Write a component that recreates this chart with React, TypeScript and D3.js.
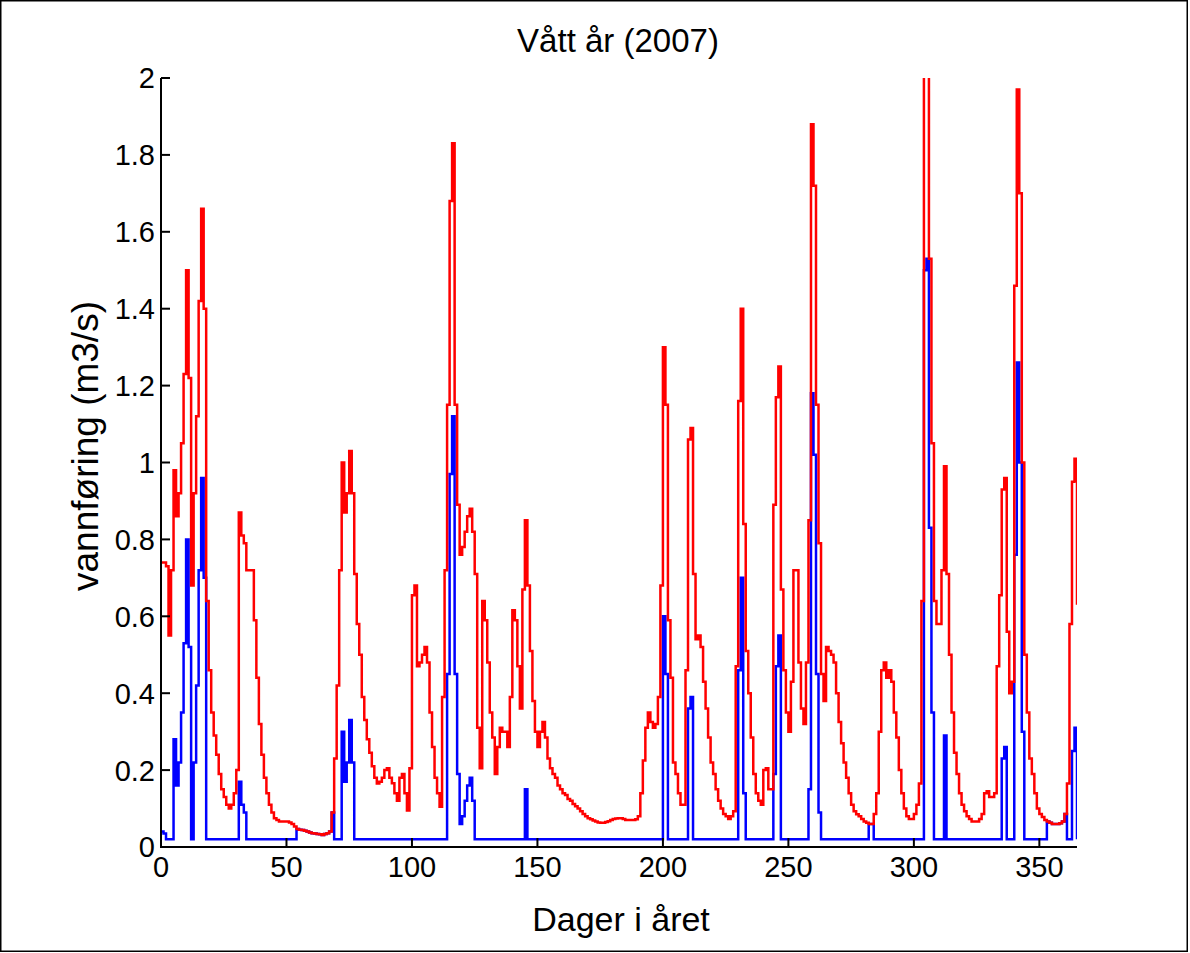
import React, { useEffect, useRef } from 'react';
import * as d3 from 'd3';

// daily discharge, wet year 2007 (red = inflow, blue = after abstraction)

const chartTitle = 'Vått år (2007)';
const xLabel = 'Dager i året';
const yLabel = 'vannføring (m3/s)';

const xTicks = [0, 50, 100, 150, 200, 250, 300, 350];
const yTicks = [0, 0.2, 0.4, 0.6, 0.8, 1, 1.2, 1.4, 1.6, 1.8, 2];

const redFlow = [
  0.74, 0.74, 0.73, 0.55, 0.72, 0.98, 0.86, 0.92, 1.05, 1.23,
  1.50, 1.22, 0.68, 0.92, 1.12, 1.42, 1.66, 1.40, 0.64, 0.46,
  0.35, 0.29, 0.24, 0.19, 0.15, 0.13, 0.11, 0.10, 0.11, 0.14,
  0.20, 0.87, 0.81, 0.79, 0.72, 0.72, 0.72, 0.59, 0.44, 0.32,
  0.24, 0.18, 0.14, 0.11, 0.09, 0.075, 0.07, 0.066, 0.066, 0.066,
  0.066, 0.064, 0.06, 0.053, 0.047, 0.045, 0.044, 0.042, 0.04, 0.038,
  0.036, 0.035, 0.034, 0.033, 0.031, 0.034, 0.036, 0.04, 0.09, 0.23,
  0.42, 0.72, 1.00, 0.87, 0.92, 1.03, 0.92, 0.71, 0.58, 0.50,
  0.39, 0.33, 0.28, 0.245, 0.21, 0.18, 0.165, 0.17, 0.18, 0.20,
  0.205, 0.18, 0.166, 0.14, 0.12, 0.18, 0.19, 0.14, 0.095, 0.205,
  0.655, 0.68, 0.47, 0.48, 0.50, 0.52, 0.48, 0.35, 0.26, 0.18,
  0.14, 0.105, 0.39, 0.72, 1.15, 1.68, 1.83, 1.15, 0.89, 0.76,
  0.78, 0.82, 0.86, 0.88, 0.82, 0.71, 0.31, 0.205, 0.64, 0.59,
  0.48, 0.35, 0.285, 0.19, 0.26, 0.31, 0.30, 0.30, 0.26, 0.39,
  0.616, 0.59, 0.47, 0.36, 0.67, 0.85, 0.68, 0.51, 0.38, 0.30,
  0.26, 0.30, 0.325, 0.285, 0.23, 0.205, 0.19, 0.18, 0.16, 0.15,
  0.14, 0.135, 0.125, 0.12, 0.112, 0.106, 0.10, 0.093, 0.086, 0.08,
  0.075, 0.072, 0.069, 0.066, 0.064, 0.063, 0.063, 0.065, 0.067, 0.07,
  0.073, 0.074, 0.075, 0.075, 0.073, 0.07, 0.07, 0.07, 0.07, 0.072,
  0.08, 0.14, 0.225, 0.31, 0.35, 0.325, 0.31, 0.32, 0.39, 0.68,
  1.30, 1.15, 0.59, 0.44, 0.22, 0.19, 0.14, 0.11, 0.11, 0.46,
  1.06, 1.09, 0.71, 0.54, 0.55, 0.52, 0.43, 0.36, 0.285, 0.22,
  0.19, 0.15, 0.12, 0.10, 0.086, 0.08, 0.073, 0.08, 0.093, 0.47,
  1.16, 1.40, 0.84, 0.51, 0.40, 0.285, 0.19, 0.14, 0.12, 0.11,
  0.20, 0.205, 0.15, 0.15, 0.89, 1.17, 1.25, 0.67, 0.46, 0.35,
  0.30, 0.43, 0.72, 0.72, 0.48, 0.36, 0.32, 0.48, 0.85, 1.88,
  1.72, 1.15, 0.79, 0.45, 0.38, 0.52, 0.51, 0.50, 0.48, 0.40,
  0.325, 0.27, 0.22, 0.18, 0.14, 0.11, 0.093, 0.085, 0.08, 0.073,
  0.066, 0.063, 0.06, 0.06, 0.086, 0.14, 0.30, 0.46, 0.48, 0.44,
  0.46, 0.43, 0.35, 0.285, 0.20, 0.14, 0.10, 0.08, 0.073, 0.073,
  0.086, 0.11, 0.165, 0.64, 2.20, 2.23, 1.53, 1.05, 0.64, 0.58,
  0.58, 0.72, 0.99, 0.71, 0.50, 0.35, 0.245, 0.19, 0.14, 0.11,
  0.093, 0.08, 0.073, 0.066, 0.066, 0.066, 0.073, 0.086, 0.14, 0.145,
  0.13, 0.13, 0.14, 0.47, 0.655, 0.93, 0.96, 0.56, 0.40, 0.43,
  1.46, 1.97, 1.70, 1.00, 0.50, 0.35, 0.23, 0.19, 0.14, 0.10,
  0.086, 0.078, 0.07, 0.066, 0.063, 0.06, 0.06, 0.06, 0.062, 0.066,
  0.086, 0.165, 0.58, 0.95, 1.01, 0.63,
];

const blueFlow = [
  0.04, 0.035, 0.02, 0.02, 0.02, 0.28, 0.16, 0.22, 0.35, 0.53,
  0.80, 0.52, 0.02, 0.22, 0.42, 0.72, 0.96, 0.70, 0.02, 0.02,
  0.02, 0.02, 0.02, 0.02, 0.02, 0.02, 0.02, 0.02, 0.02, 0.02,
  0.02, 0.17, 0.11, 0.09, 0.02, 0.02, 0.02, 0.02, 0.02, 0.02,
  0.02, 0.02, 0.02, 0.02, 0.02, 0.02, 0.02, 0.02, 0.02, 0.02,
  0.02, 0.02, 0.02, 0.02, 0.047, 0.045, 0.044, 0.042, 0.04, 0.038,
  0.036, 0.035, 0.034, 0.033, 0.031, 0.034, 0.036, 0.04, 0.09, 0.02,
  0.02, 0.02, 0.30, 0.17, 0.22, 0.33, 0.22, 0.02, 0.02, 0.02,
  0.02, 0.02, 0.02, 0.02, 0.02, 0.02, 0.02, 0.02, 0.02, 0.02,
  0.02, 0.02, 0.02, 0.02, 0.02, 0.02, 0.02, 0.02, 0.02, 0.02,
  0.02, 0.02, 0.02, 0.02, 0.02, 0.02, 0.02, 0.02, 0.02, 0.02,
  0.02, 0.02, 0.02, 0.02, 0.45, 0.97, 1.12, 0.45, 0.19, 0.06,
  0.08, 0.12, 0.16, 0.18, 0.12, 0.02, 0.02, 0.02, 0.02, 0.02,
  0.02, 0.02, 0.02, 0.02, 0.02, 0.02, 0.02, 0.02, 0.02, 0.02,
  0.02, 0.02, 0.02, 0.02, 0.02, 0.15, 0.02, 0.02, 0.02, 0.02,
  0.02, 0.02, 0.02, 0.02, 0.02, 0.02, 0.02, 0.02, 0.02, 0.02,
  0.02, 0.02, 0.02, 0.02, 0.02, 0.02, 0.02, 0.02, 0.02, 0.02,
  0.02, 0.02, 0.02, 0.02, 0.02, 0.02, 0.02, 0.02, 0.02, 0.02,
  0.02, 0.02, 0.02, 0.02, 0.02, 0.02, 0.02, 0.02, 0.02, 0.02,
  0.02, 0.02, 0.02, 0.02, 0.02, 0.02, 0.02, 0.02, 0.02, 0.02,
  0.60, 0.45, 0.02, 0.02, 0.02, 0.02, 0.02, 0.02, 0.02, 0.02,
  0.36, 0.39, 0.02, 0.02, 0.02, 0.02, 0.02, 0.02, 0.02, 0.02,
  0.02, 0.02, 0.02, 0.02, 0.02, 0.02, 0.02, 0.02, 0.02, 0.02,
  0.46, 0.70, 0.14, 0.02, 0.02, 0.02, 0.02, 0.02, 0.02, 0.02,
  0.02, 0.02, 0.02, 0.02, 0.19, 0.47, 0.55, 0.02, 0.02, 0.02,
  0.02, 0.02, 0.02, 0.02, 0.02, 0.02, 0.02, 0.02, 0.15, 1.18,
  1.02, 0.45, 0.09, 0.02, 0.02, 0.02, 0.02, 0.02, 0.02, 0.02,
  0.02, 0.02, 0.02, 0.02, 0.02, 0.02, 0.02, 0.02, 0.02, 0.02,
  0.02, 0.02, 0.06, 0.06, 0.02, 0.02, 0.02, 0.02, 0.02, 0.02,
  0.02, 0.02, 0.02, 0.02, 0.02, 0.02, 0.02, 0.02, 0.02, 0.02,
  0.02, 0.02, 0.02, 0.02, 1.50, 1.53, 0.83, 0.35, 0.02, 0.02,
  0.02, 0.02, 0.29, 0.02, 0.02, 0.02, 0.02, 0.02, 0.02, 0.02,
  0.02, 0.02, 0.02, 0.02, 0.02, 0.02, 0.02, 0.02, 0.02, 0.02,
  0.02, 0.02, 0.02, 0.02, 0.02, 0.23, 0.26, 0.02, 0.02, 0.02,
  0.76, 1.26, 1.00, 0.30, 0.02, 0.02, 0.02, 0.02, 0.02, 0.02,
  0.02, 0.02, 0.02, 0.066, 0.063, 0.06, 0.06, 0.06, 0.062, 0.066,
  0.086, 0.02, 0.02, 0.25, 0.31, 0.02,
];

const width = 1190;
const height = 953;
const margin = { left: 161, right: 113, top: 78, bottom: 106 };
const fontFamily = '"Liberation Sans", Arial, Helvetica, sans-serif';

export default function App() {
  const svgRef = useRef<SVGSVGElement | null>(null);

  useEffect(() => {
    const svg = d3.select(svgRef.current);
    svg.selectAll('*').remove();

    const x = d3.scaleLinear()
      .domain([0, 365])
      .range([margin.left, width - margin.right]);
    const y = d3.scaleLinear()
      .domain([0, 2])
      .range([height - margin.bottom, margin.top]);

    // outer frame of the figure
    svg.append('rect')
      .attr('x', 0.75).attr('y', 0.75)
      .attr('width', width - 3.5).attr('height', height - 2.5)
      .attr('fill', 'white')
      .attr('stroke', 'black')
      .attr('stroke-width', 1.5);

    svg.append('clipPath').attr('id', 'plotClip')
      .append('rect')
      .attr('x', margin.left).attr('y', margin.top)
      .attr('width', width - margin.right - margin.left)
      .attr('height', height - margin.bottom - margin.top);

    const line = d3.line<number>()
      .x((d, i) => x(i))
      .y((d) => y(d))
      .curve(d3.curveStepAfter);

    const plot = svg.append('g').attr('clip-path', 'url(#plotClip)');
    plot.append('path')
      .datum(blueFlow)
      .attr('d', line)
      .attr('fill', 'none')
      .attr('stroke', '#0000ff')
      .attr('stroke-width', 2.5);
    plot.append('path')
      .datum(redFlow)
      .attr('d', line)
      .attr('fill', 'none')
      .attr('stroke', '#ff0000')
      .attr('stroke-width', 2.5);

    // axes, matlab style: ticks pointing inward
    const x0 = margin.left;
    const y0 = height - margin.bottom;
    const tickLen = 9;

    const xAxis = svg.append('g');
    xAxis.append('line')
      .attr('x1', x0 - 1).attr('x2', x(365))
      .attr('y1', y0).attr('y2', y0)
      .attr('stroke', 'black').attr('stroke-width', 2);
    xAxis.selectAll('.xtick')
      .data(xTicks)
      .enter().append('line')
      .attr('x1', (d) => x(d)).attr('x2', (d) => x(d))
      .attr('y1', y0).attr('y2', y0 - tickLen)
      .attr('stroke', 'black').attr('stroke-width', 2);
    xAxis.selectAll('.xlab')
      .data(xTicks)
      .enter().append('text')
      .attr('x', (d) => x(d))
      .attr('y', y0 + 30)
      .attr('text-anchor', 'middle')
      .attr('font-size', 29)
      .attr('font-family', fontFamily)
      .text((d) => String(d));

    const yAxis = svg.append('g');
    yAxis.append('line')
      .attr('x1', x0).attr('x2', x0)
      .attr('y1', y0 + 1).attr('y2', y(2))
      .attr('stroke', 'black').attr('stroke-width', 2);
    yAxis.selectAll('.ytick')
      .data(yTicks)
      .enter().append('line')
      .attr('x1', x0).attr('x2', x0 + tickLen)
      .attr('y1', (d) => y(d)).attr('y2', (d) => y(d))
      .attr('stroke', 'black').attr('stroke-width', 2);
    yAxis.selectAll('.ylab')
      .data(yTicks)
      .enter().append('text')
      .attr('x', x0 - 6)
      .attr('y', (d) => y(d))
      .attr('dy', '0.36em')
      .attr('text-anchor', 'end')
      .attr('font-size', 29)
      .attr('font-family', fontFamily)
      .text((d) => String(+d.toFixed(1)));

    svg.append('text')
      .attr('x', 618).attr('y', 52)
      .attr('text-anchor', 'middle')
      .attr('font-size', 33)
      .attr('font-family', fontFamily)
      .text(chartTitle);

    svg.append('text')
      .attr('x', 621).attr('y', 931)
      .attr('text-anchor', 'middle')
      .attr('font-size', 34)
      .attr('font-family', fontFamily)
      .text(xLabel);

    svg.append('text')
      .attr('transform', 'translate(98,446) rotate(-90)')
      .attr('text-anchor', 'middle')
      .attr('font-size', 37)
      .attr('font-family', fontFamily)
      .text(yLabel);
  }, []);

  return (
    <div style={{ position: 'absolute', left: 0, top: 0 }}>
      <svg ref={svgRef} width={width} height={height} style={{ display: 'block' }} />
    </div>
  );
}
